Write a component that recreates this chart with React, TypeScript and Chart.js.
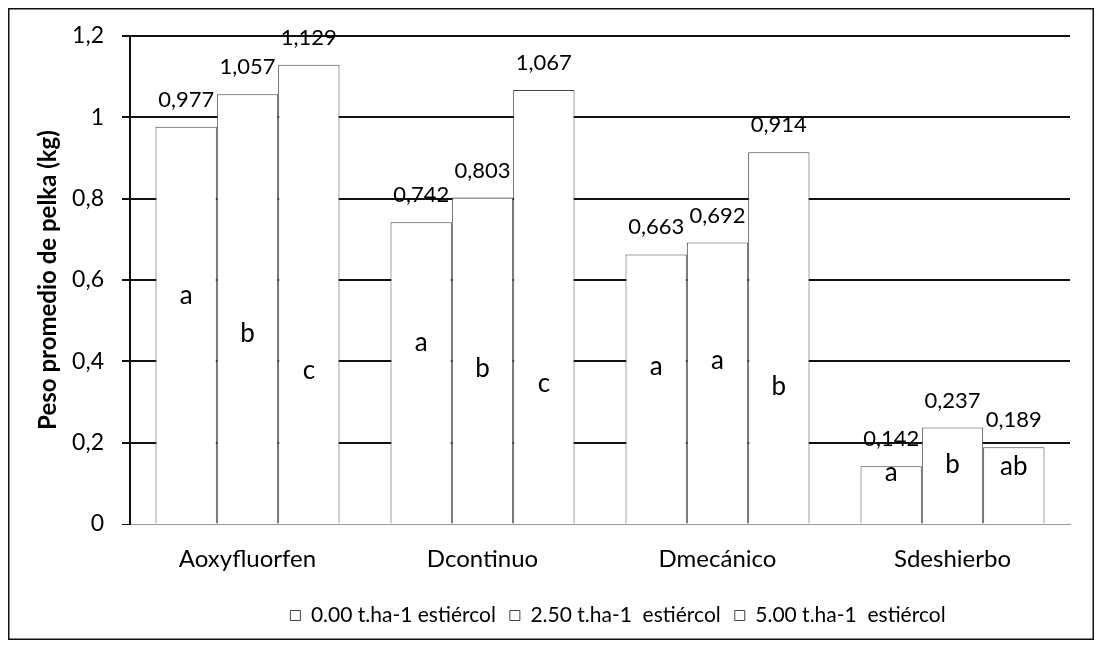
import React, { useEffect, useRef } from "react";
import { Chart, registerables } from "chart.js";

Chart.register(...registerables);

const categories = ["Aoxyfluorfen", "Dcontinuo", "Dmecánico", "Sdeshierbo"];
const seriesLabels = ["0.00 t.ha-1 estiércol", "2.50 t.ha-1  estiércol", "5.00 t.ha-1  estiércol"];
const values000 = [0.977, 0.742, 0.663, 0.142];
const values250 = [1.057, 0.803, 0.692, 0.237];
const values500 = [1.129, 1.067, 0.914, 0.189];
const letters000 = ["a", "a", "a", "a"];
const letters250 = ["b", "b", "a", "b"];
const letters500 = ["c", "c", "b", "ab"];
const letterAt000 = [0.562, 0.446, 0.387, 0.126];
const letterAt250 = [0.468, 0.382, 0.402, 0.145];
const letterAt500 = [0.377, 0.345, 0.338, 0.14];
const yMin = 0;
const yMax = 1.2;
const yStep = 0.2;
const yTitle = "Peso promedio de pelka (kg)";

const FONT = "Lato, 'Open Sans', sans-serif";
const LEGEND_SHIFT = 79;

const fmtVal = (v: number) => v.toFixed(3).replace(".", ",");
const fmtTick = (v: number) => String(Number(v.toFixed(1))).replace(".", ",");

const letterSets = [letters000, letters250, letters500];
const letterPos = [letterAt000, letterAt250, letterAt500];

const annotPlugin = {
  id: "annot",
  afterLayout(chart: any) {
    if (chart.legend) {
      chart.legend.left += LEGEND_SHIFT;
      chart.legend.right += LEGEND_SHIFT;
    }
  },
  afterDatasetsDraw(chart: any) {
    const ctx = chart.ctx;
    const yScale = chart.scales.y;
    ctx.save();
    ctx.fillStyle = "#000";
    ctx.textAlign = "center";
    ctx.textBaseline = "middle";
    chart.data.datasets.forEach((ds: any, i: number) => {
      const meta = chart.getDatasetMeta(i);
      meta.data.forEach((el: any, j: number) => {
        ctx.font = `22px ${FONT}`;
        ctx.fillText(fmtVal(ds.data[j]), el.x, el.y - 27);
        ctx.font = `26px ${FONT}`;
        ctx.fillText(letterSets[i][j], el.x, yScale.getPixelForValue(letterPos[i][j]));
      });
    });
    ctx.restore();
  },
  afterDraw(chart: any) {
    const ctx = chart.ctx;
    ctx.save();
    ctx.strokeStyle = "#111";
    ctx.lineWidth = 1.5;
    ctx.strokeRect(0.75, 0.75, chart.width - 1.5, chart.height - 1.5);
    ctx.restore();
  },
};

export default function App() {
  const ref = useRef<HTMLCanvasElement>(null);
  useEffect(() => {
    if (!ref.current) return;
    const mk = (label: string, data: number[]) => ({
      label,
      data,
      backgroundColor: "#ffffff",
      borderColor: "#444",
      borderWidth: 1,
      categoryPercentage: 0.783,
      barPercentage: 1.0,
    });
    const chart = new Chart(ref.current, {
      type: "bar",
      data: {
        labels: categories,
        datasets: [
          mk(seriesLabels[0], values000),
          mk(seriesLabels[1], values250),
          mk(seriesLabels[2], values500),
        ],
      },
      options: {
        animation: false,
        responsive: true,
        maintainAspectRatio: false,
        layout: { padding: { top: 28, right: 24, bottom: 4, left: 0 } },
        plugins: {
          tooltip: { enabled: false },
          legend: {
            position: "bottom",
            labels: {
              boxWidth: 10,
              boxHeight: 10,
              padding: 14,
              color: "#000",
              font: { family: FONT, size: 21 },
            },
          },
        },
        scales: {
          x: {
            afterFit: (s: any) => {
              s.height = 67;
            },
            grid: { display: false },
            border: { display: true, color: "#999", width: 1 },
            ticks: { color: "#000", padding: 13, font: { family: FONT, size: 24 } },
          },
          y: {
            min: yMin,
            max: yMax,
            afterFit: (s: any) => {
              s.width = 122;
              s.paddingTop = 0;
            },
            ticks: {
              stepSize: yStep,
              color: "#000",
              padding: 18,
              font: { family: FONT, size: 23 },
              callback: (v: any) => fmtTick(Number(v)),
            },
            grid: {
              color: (c: any) => (c.tick && c.tick.value === 0 ? "#999" : "#111"),
              lineWidth: (c: any) => (c.tick && c.tick.value === 0 ? 1 : 2),
              tickLength: 8,
              tickColor: "#111",
            },
            border: { display: true, color: "#111", width: 2 },
            title: {
              display: true,
              text: yTitle,
              color: "#000",
              padding: { top: 26, bottom: 0 },
              font: { family: FONT, size: 24, weight: "bold" },
            },
          },
        },
      },
      plugins: [annotPlugin],
    });
    return () => chart.destroy();
  }, []);
  return (
    <div style={{ width: 1086, height: 632, position: "relative" }}>
      <canvas ref={ref} />
    </div>
  );
}
